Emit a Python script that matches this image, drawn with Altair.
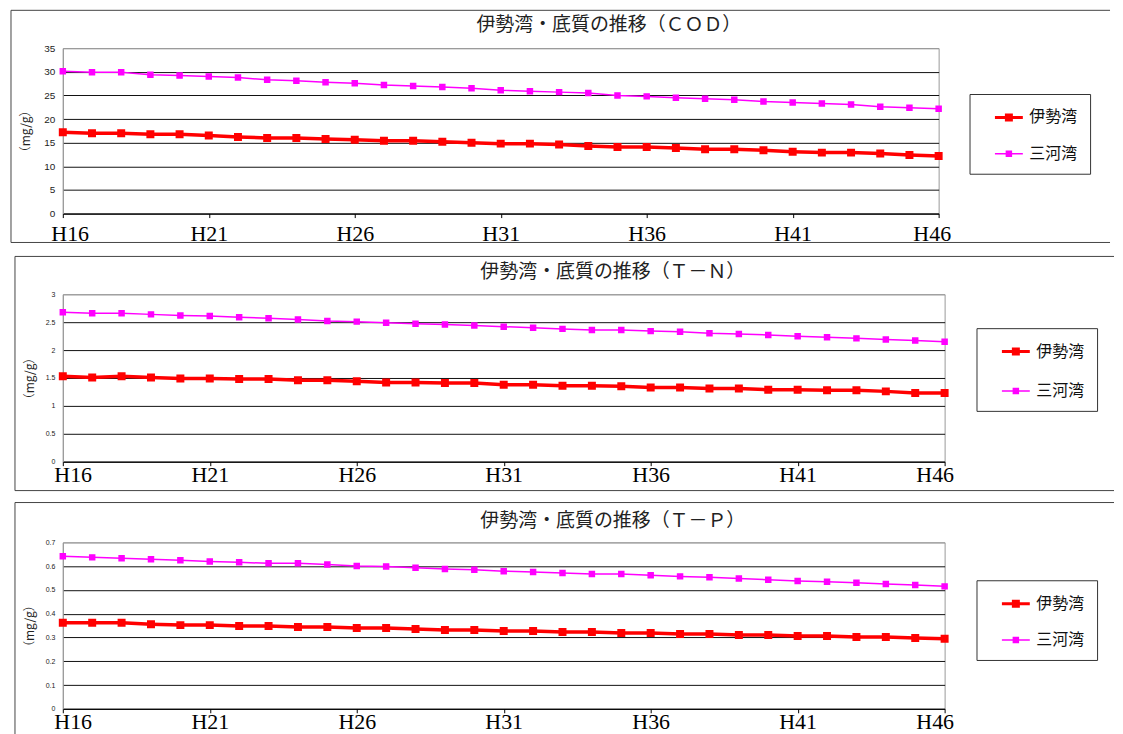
import altair as alt
import pandas as pd

# ---------------- data ----------------
years = list(range(16, 47))  # H16 .. H46
x_ticks = [16, 21, 26, 31, 36, 41, 46]
x_tick_labels = ["H16", "H21", "H26", "H31", "H36", "H41", "H46"]
series = ["伊勢湾", "三河湾"]
colors = ["#ff0000", "#ff00ff"]
line_widths = [3.5, 1.5]
symbol_widths = [3, 1.5]

cod_ise = [17.2, 17.0, 17.0, 16.8, 16.8, 16.5, 16.2, 16.0, 16.0, 15.8, 15.6,
           15.4, 15.4, 15.2, 15.0, 14.8, 14.8, 14.6, 14.3, 14.1, 14.1, 13.9,
           13.6, 13.6, 13.4, 13.1, 12.9, 12.9, 12.7, 12.4, 12.2]
cod_mik = [30.1, 29.9, 29.9, 29.4, 29.2, 29.0, 28.8, 28.3, 28.1, 27.8, 27.6,
           27.2, 27.0, 26.8, 26.5, 26.1, 25.9, 25.7, 25.5, 25.0, 24.8, 24.5,
           24.3, 24.1, 23.7, 23.5, 23.3, 23.1, 22.6, 22.4, 22.2]
tn_ise = [1.53, 1.51, 1.53, 1.51, 1.49, 1.49, 1.48, 1.48, 1.46, 1.46, 1.44,
          1.42, 1.42, 1.41, 1.41, 1.38, 1.38, 1.36, 1.36, 1.35, 1.33, 1.33,
          1.31, 1.31, 1.29, 1.29, 1.28, 1.28, 1.26, 1.23, 1.23]
tn_mik = [2.68, 2.66, 2.66, 2.64, 2.62, 2.61, 2.59, 2.57, 2.55, 2.52, 2.51,
          2.49, 2.47, 2.46, 2.44, 2.42, 2.40, 2.38, 2.36, 2.36, 2.34, 2.33,
          2.30, 2.29, 2.27, 2.25, 2.23, 2.21, 2.19, 2.17, 2.15]
tp_ise = [0.362, 0.362, 0.362, 0.356, 0.352, 0.352, 0.348, 0.348, 0.344, 0.344,
          0.340, 0.340, 0.336, 0.331, 0.331, 0.327, 0.327, 0.323, 0.323, 0.319,
          0.319, 0.315, 0.315, 0.310, 0.310, 0.306, 0.306, 0.302, 0.302, 0.298,
          0.295]
tp_mik = [0.642, 0.637, 0.633, 0.629, 0.625, 0.620, 0.616, 0.612, 0.612, 0.607,
          0.601, 0.599, 0.593, 0.588, 0.585, 0.579, 0.575, 0.571, 0.567, 0.567,
          0.562, 0.557, 0.553, 0.548, 0.543, 0.538, 0.534, 0.530, 0.525, 0.521,
          0.515]

y_ticks_cod = [0, 5, 10, 15, 20, 25, 30, 35]
y_ticks_tn = [0, 0.5, 1, 1.5, 2, 2.5, 3]
y_ticks_tp = [0, 0.1, 0.2, 0.3, 0.4, 0.5, 0.6, 0.7]

titles = ["伊勢湾・底質の推移（ＣＯＤ）", "伊勢湾・底質の推移（Ｔ－Ｎ）", "伊勢湾・底質の推移（Ｔ－Ｐ）"]
y_title = "（mg/g）"

label_expr = " : ".join(
    [f"datum.value == {v} ? '{t}'" for v, t in zip(x_ticks, x_tick_labels)]
) + " : ''"

LEGEND_PATH = "M-1.4,0H1.4M-0.25,-0.25H0.25V0.25H-0.25Z"


def panel(ise, mik, title, y_ticks, w, h, x0, y_lab_size, leg_x, leg_y,
          title_dy, flush_off, x_lab_pad, row_pad, box_top):
    ymax = y_ticks[-1]
    df = pd.DataFrame({
        "year": years + years,
        "value": ise + mik,
        "海域": [series[0]] * len(years) + [series[1]] * len(years),
    })
    X = alt.X(
        "year:Q",
        scale=alt.Scale(domain=[years[0], years[-1]], nice=False),
        axis=alt.Axis(
            values=x_ticks, labelExpr=label_expr, grid=False, title=None,
            tickSize=4, tickColor="#000", domainColor="#000",
            labelFont="Liberation Serif", labelFontSize=22, labelColor="#000",
            labelBaseline="alphabetic", labelPadding=x_lab_pad,
            labelFlush=True, labelFlushOffset=flush_off,
        ),
    )
    Y = alt.Y(
        "value:Q",
        scale=alt.Scale(domain=[0, ymax], nice=False),
        axis=alt.Axis(
            values=y_ticks, format="~g", ticks=False, labelPadding=8,
            labelFont="Liberation Sans", labelFontSize=y_lab_size,
            labelColor="#222", domainColor="#999",
            gridColor={"condition": {"test": f"datum.value >= {ymax * 0.999}",
                                     "value": "#999"},
                       "value": "#111"},
            title=y_title, titleFont="Noto Sans CJK JP", titleFontSize=12,
            titleFontWeight="normal", titleColor="#222",
            titleAngle=270, titleBaseline="middle",
            titleX=25 - x0, titleY=h / 2,
        ),
    )
    leg = alt.Legend(
        orient="none", legendX=leg_x, legendY=leg_y, title=None,
        symbolType=LEGEND_PATH, symbolSize=400,
        labelFont="Noto Sans CJK JP", labelFontSize=16, labelColor="#111",
        strokeColor="#333", fillColor="white", padding=12,
        rowPadding=row_pad, symbolOffset=16, labelOffset=9,
    )
    lines = [
        alt.Chart(df).transform_filter(
            alt.datum["海域"] == s
        ).mark_line(color=c, strokeWidth=lw).encode(x=X, y=Y)
        for s, c, lw in zip(series, colors, line_widths)
    ]
    pts = alt.Chart(df).mark_point(shape="square", filled=True, size=25,
                                   opacity=1).encode(
        x=X, y=Y,
        fill=alt.Fill("海域:N", scale=alt.Scale(domain=series, range=colors),
                      legend=leg),
        stroke=alt.Stroke("海域:N", scale=alt.Scale(domain=series, range=colors),
                          legend=leg),
        strokeWidth=alt.StrokeWidth(
            "海域:N", scale=alt.Scale(domain=series, range=symbol_widths),
            legend=leg),
    )
    deco = pd.DataFrame({"k": [0]})
    L, R, T, B = 10 - x0, 1113 - x0, box_top, h + 29
    top = alt.Chart(deco).mark_rule(color="#444", strokeWidth=1).encode(
        x=alt.value(L), x2=alt.value(R), y=alt.value(T))
    bottom = alt.Chart(deco).mark_rule(color="#444", strokeWidth=1).encode(
        x=alt.value(L), x2=alt.value(R), y=alt.value(B))
    left = alt.Chart(deco).mark_rule(color="#444", strokeWidth=1).encode(
        x=alt.value(L), y=alt.value(T), y2=alt.value(B))
    ttl = alt.Chart(deco).mark_text(
        text=title, font="Noto Sans CJK JP", fontSize=19, align="center",
        baseline="middle", color="#222").encode(
        x=alt.value(610 - x0), y=alt.value(title_dy))
    return alt.layer(top, bottom, left, ttl, *lines, pts).properties(
        width=w, height=h)


p1 = panel(cod_ise, cod_mik, titles[0], y_ticks_cod, 879, 166, 62, 10,
           910, 46, -23, 12, 23, 17, -38)
p2 = panel(tn_ise, tn_mik, titles[1], y_ticks_tn, 885, 168, 58, 7,
           917, 34, -22, 9, 16, 20, -38)
p3 = panel(tp_ise, tp_mik, titles[2], y_ticks_tp, 885, 167, 58, 7,
           917, 38, -21, 9, 16, 17, -40)

chart = alt.vconcat(p1, p2, p3, spacing=10).resolve_scale(
    fill="independent", stroke="independent", strokeWidth="independent"
).resolve_legend(
    fill="independent", stroke="independent", strokeWidth="independent"
).properties(
    padding={"left": 2, "top": 0, "right": 0, "bottom": 0}
).configure_view(stroke="#999", strokeWidth=1)

chart.save("out.html", embed_options={"renderer": "svg", "actions": False})
